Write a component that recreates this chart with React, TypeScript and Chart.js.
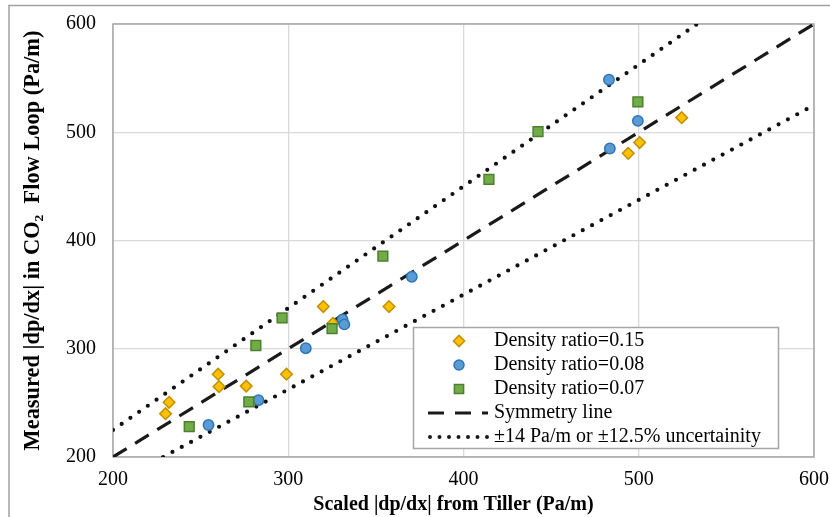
import React, { useEffect, useRef } from 'react';
import { Chart, registerables } from 'chart.js';

Chart.register(...registerables);

// ---- data ----
const ratio015X = [232, 230, 260, 260.5, 276, 299, 320, 357.5, 325.5, 494, 500.5, 524.5];
const ratio015Y = [250.5, 240, 276.5, 265, 265.5, 276.5, 339, 339, 323.5, 480.5, 490.5, 513.5];

const ratio008X = [254.5, 283, 310, 331, 332, 370.5, 483, 499.5, 483.5];
const ratio008Y = [229.5, 252.5, 300.5, 327, 322.5, 366.5, 548.5, 510.5, 485];

const ratio007X = [243.5, 277.5, 281.5, 296.5, 325, 354, 414.5, 442.5, 499.5];
const ratio007Y = [228, 251, 303, 328.5, 318.5, 385.5, 456.5, 500.5, 528];

const symmetryX = [200, 600];
const symmetryY = [200, 600];

const upperBoundX = [200, 533.3];
const upperBoundY = [225, 600];
const lowerBoundX = [228.6, 600];
const lowerBoundY = [200, 525];

const axisMin = 200;
const axisMax = 600;
const axisStep = 100;

const seriesLabels = [
  'Density ratio=0.15',
  'Density ratio=0.08',
  'Density ratio=0.07',
  'Symmetry line',
  '\u00B114 Pa/m or \u00B112.5% uncertainity',
];

const xTitle = 'Scaled |dp/dx| from Tiller (Pa/m)';
const yTitle = 'Measured |dp/dx| in CO\u2082  Flow Loop (Pa/m)';

const SERIF = "'Liberation Serif', 'Times New Roman', serif";

const zip = (xs: number[], ys: number[]) => xs.map((x, i) => ({ x, y: ys[i] }));

const framePlugin = {
  id: 'frame',
  beforeDraw(chart: any) {
    const ctx = chart.ctx;
    ctx.save();
    ctx.fillStyle = '#ffffff';
    ctx.fillRect(0, 0, chart.width, chart.height);
    ctx.strokeStyle = '#a0a0a0';
    ctx.lineWidth = 1.5;
    ctx.beginPath();
    ctx.moveTo(9, chart.height);
    ctx.lineTo(9, 5.5);
    ctx.lineTo(chart.width, 5.5);
    ctx.stroke();
    ctx.restore();
  },
  beforeDatasetsDraw(chart: any) {
    const { ctx, chartArea: a } = chart;
    ctx.save();
    ctx.strokeStyle = '#a6a6a6';
    ctx.lineWidth = 1.5;
    ctx.strokeRect(a.left, a.top, a.right - a.left, a.bottom - a.top);
    ctx.restore();
  },
  afterDraw(chart: any) {
    // x-axis title, centred slightly left of the plot centre as in the reference
    const ctx = chart.ctx as CanvasRenderingContext2D;
    const a = chart.chartArea;
    ctx.save();
    ctx.fillStyle = '#000000';
    ctx.font = `bold 20px ${SERIF}`;
    ctx.textAlign = 'center';
    ctx.textBaseline = 'middle';
    ctx.fillText(xTitle, (a.left + a.right) / 2 - 10, 505);
    ctx.restore();
  },
};

function drawMarker(ctx: CanvasRenderingContext2D, kind: string, x: number, y: number, fill: string, stroke: string) {
  ctx.save();
  ctx.fillStyle = fill;
  ctx.strokeStyle = stroke;
  ctx.lineWidth = 1.5;
  ctx.beginPath();
  if (kind === 'diamond') {
    const r = 5.6;
    ctx.moveTo(x, y - r);
    ctx.lineTo(x + r, y);
    ctx.lineTo(x, y + r);
    ctx.lineTo(x - r, y);
    ctx.closePath();
  } else if (kind === 'circle') {
    ctx.arc(x, y, 5, 0, Math.PI * 2);
  } else {
    const s = 4.6;
    ctx.rect(x - s, y - s, 2 * s, 2 * s);
  }
  ctx.fill();
  ctx.stroke();
  ctx.restore();
}

const legendPlugin = {
  id: 'boxLegend',
  afterDraw(chart: any) {
    const ctx = chart.ctx as CanvasRenderingContext2D;
    const left = 413.5;
    const top = 327.5;
    const w = 365;
    const h = 121;
    ctx.save();
    ctx.fillStyle = '#ffffff';
    ctx.fillRect(left, top, w, h);
    ctx.strokeStyle = '#a6a6a6';
    ctx.lineWidth = 1.5;
    ctx.strokeRect(left, top, w, h);

    const rowY = (i: number) => top + 13.5 + i * 24;
    const ds = chart.data.datasets;
    const kinds = ['diamond', 'circle', 'square'];
    for (let i = 0; i < 3; i++) {
      drawMarker(ctx, kinds[i], 459, rowY(i), ds[i].backgroundColor, ds[i].borderColor);
    }
    // symmetry line sample
    ctx.strokeStyle = '#1a1a1a';
    ctx.lineWidth = 3.2;
    ctx.setLineDash([16, 11]);
    ctx.lineCap = 'butt';
    ctx.beginPath();
    ctx.moveTo(428, rowY(3));
    ctx.lineTo(488, rowY(3));
    ctx.stroke();
    // dotted sample
    ctx.lineWidth = 4;
    ctx.lineCap = 'round';
    ctx.setLineDash([0, 9.5]);
    ctx.beginPath();
    ctx.moveTo(430, rowY(4));
    ctx.lineTo(488, rowY(4));
    ctx.stroke();
    ctx.setLineDash([]);

    ctx.fillStyle = '#000000';
    ctx.font = `20px ${SERIF}`;
    ctx.textBaseline = 'middle';
    ctx.textAlign = 'left';
    for (let i = 0; i < seriesLabels.length; i++) {
      ctx.fillText(seriesLabels[i], 494, rowY(i));
    }
    ctx.restore();
  },
};

export default function App() {
  const ref = useRef<HTMLCanvasElement>(null);

  useEffect(() => {
    if (!ref.current) return;
    const chart = new Chart(ref.current, {
      type: 'scatter',
      data: {
        datasets: [
          {
            label: seriesLabels[0],
            data: zip(ratio015X, ratio015Y),
            pointStyle: 'rectRot',
            pointRadius: 5.8,
            backgroundColor: '#FFC000',
            borderColor: '#C09000',
            pointBorderWidth: 1.5,
            order: 2,
          },
          {
            label: seriesLabels[1],
            data: zip(ratio008X, ratio008Y),
            pointStyle: 'circle',
            pointRadius: 5.2,
            backgroundColor: '#5B9BD5',
            borderColor: '#2E75B6',
            pointBorderWidth: 1.5,
            order: 1,
          },
          {
            label: seriesLabels[2],
            data: zip(ratio007X, ratio007Y),
            pointStyle: 'rect',
            pointRadius: 6.9,
            backgroundColor: '#70AD47',
            borderColor: '#4E7F2E',
            pointBorderWidth: 1.5,
            order: 0,
          },
          {
            label: seriesLabels[3],
            data: zip(symmetryX, symmetryY),
            showLine: true,
            pointRadius: 0,
            borderColor: '#1a1a1a',
            borderWidth: 3.2,
            borderDash: [16, 10],
            borderCapStyle: 'butt',
            order: 3,
          } as any,
          {
            label: seriesLabels[4],
            data: zip(upperBoundX, upperBoundY),
            showLine: true,
            pointRadius: 0,
            borderColor: '#111111',
            borderWidth: 4.2,
            borderDash: [0, 10.6],
            borderCapStyle: 'round',
            order: 4,
          } as any,
          {
            label: seriesLabels[4] + ' (lower)',
            data: zip(lowerBoundX, lowerBoundY),
            showLine: true,
            pointRadius: 0,
            borderColor: '#111111',
            borderWidth: 4.2,
            borderDash: [0, 10.6],
            borderCapStyle: 'round',
            order: 5,
          } as any,
        ],
      },
      options: {
        responsive: false,
        animation: false,
        events: [],
        layout: { padding: { top: 24, right: 16, bottom: 0, left: 0 } },
        plugins: {
          legend: { display: false },
          tooltip: { enabled: false },
          title: { display: false },
        },
        scales: {
          x: {
            type: 'linear',
            position: 'bottom',
            min: axisMin,
            max: axisMax,
            afterFit: (s: any) => {
              s.height = 60;
              s.paddingLeft = 0;
              s.paddingRight = 0;
              s.paddingTop = 0;
              s.paddingBottom = 0;
            },
            ticks: {
              stepSize: axisStep,
              padding: 11,
              color: '#000000',
              font: { family: SERIF, size: 20 },
            },
            grid: { color: '#d9d9d9', lineWidth: 1.3, drawTicks: false },
            border: { display: false },
            title: { display: false },
          },
          y: {
            type: 'linear',
            min: axisMin,
            max: axisMax,
            afterFit: (s: any) => {
              s.width = 113;
              s.paddingLeft = 0;
              s.paddingRight = 0;
              s.paddingTop = 0;
              s.paddingBottom = 0;
            },
            ticks: {
              stepSize: axisStep,
              padding: 17,
              color: '#000000',
              font: { family: SERIF, size: 20 },
            },
            grid: { color: '#d9d9d9', lineWidth: 1.3, drawTicks: false },
            border: { display: false },
            title: {
              display: true,
              text: yTitle,
              color: '#000000',
              font: { family: SERIF, size: 22.4, weight: 'bold' },
              padding: { top: 19.5, bottom: 0 },
            },
          },
        },
      } as any,
      plugins: [framePlugin, legendPlugin],
    });
    return () => chart.destroy();
  }, []);

  return (
    <div style={{ position: 'absolute', left: 0, top: 0, width: 830, height: 517, background: '#fff' }}>
      <canvas ref={ref} width={830} height={517} style={{ display: 'block', width: 830, height: 517 }} />
    </div>
  );
}
